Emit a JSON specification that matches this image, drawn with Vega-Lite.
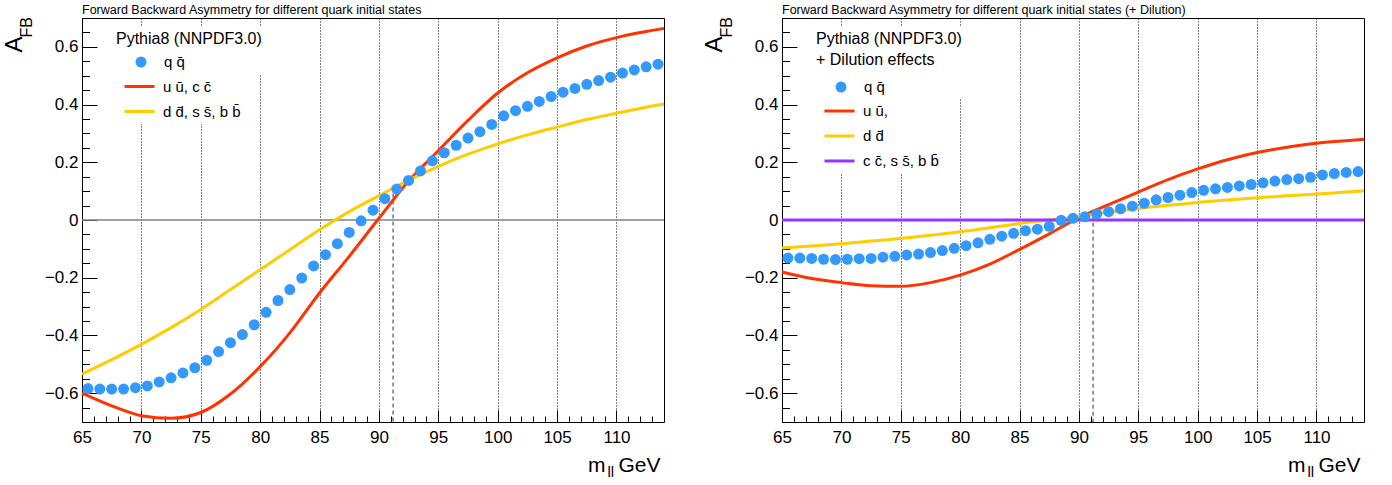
{
  "$schema": "https://vega.github.io/schema/vega-lite/v6.json",
  "padding": {"left": 1, "top": 3, "right": 0, "bottom": 0},
  "bounds": "flush",
  "spacing": 118,
  "config": {
    "view": {"stroke": "black", "strokeWidth": 1},
    "font": "Liberation Sans",
    "axis": {"labelFont": "Liberation Sans", "titleFont": "Liberation Sans", "labelColor": "black", "titleColor": "black", "titleFontWeight": "normal", "tickColor": "black", "tickWidth": 1, "domain": false, "labelFlush": false, "labelOverlap": false, "grid": false},
    "legend": {"labelFont": "Liberation Sans", "titleFont": "Liberation Sans", "labelColor": "black", "titleColor": "black", "titleFontWeight": "normal", "labelLimit": 400, "titleLimit": 400, "fillColor": "white", "padding": 4}
  },
  "datasets": {
    "qqL": [
      {"s": "q q\u0304", "m": 65.5, "v": -0.584}, {"s": "q q\u0304", "m": 66.5, "v": -0.586}, {"s": "q q\u0304", "m": 67.5, "v": -0.586}, {"s": "q q\u0304", "m": 68.5, "v": -0.586}, {"s": "q q\u0304", "m": 69.5, "v": -0.581},
      {"s": "q q\u0304", "m": 70.5, "v": -0.575}, {"s": "q q\u0304", "m": 71.5, "v": -0.561}, {"s": "q q\u0304", "m": 72.5, "v": -0.547}, {"s": "q q\u0304", "m": 73.5, "v": -0.530}, {"s": "q q\u0304", "m": 74.5, "v": -0.512},
      {"s": "q q\u0304", "m": 75.5, "v": -0.486}, {"s": "q q\u0304", "m": 76.5, "v": -0.456}, {"s": "q q\u0304", "m": 77.5, "v": -0.425}, {"s": "q q\u0304", "m": 78.5, "v": -0.397}, {"s": "q q\u0304", "m": 79.5, "v": -0.363},
      {"s": "q q\u0304", "m": 80.5, "v": -0.320}, {"s": "q q\u0304", "m": 81.5, "v": -0.279}, {"s": "q q\u0304", "m": 82.5, "v": -0.241}, {"s": "q q\u0304", "m": 83.5, "v": -0.201}, {"s": "q q\u0304", "m": 84.5, "v": -0.159},
      {"s": "q q\u0304", "m": 85.5, "v": -0.120}, {"s": "q q\u0304", "m": 86.5, "v": -0.082}, {"s": "q q\u0304", "m": 87.5, "v": -0.043}, {"s": "q q\u0304", "m": 88.5, "v": -0.003}, {"s": "q q\u0304", "m": 89.5, "v": 0.034},
      {"s": "q q\u0304", "m": 90.5, "v": 0.074}, {"s": "q q\u0304", "m": 91.5, "v": 0.107}, {"s": "q q\u0304", "m": 92.5, "v": 0.137}, {"s": "q q\u0304", "m": 93.5, "v": 0.170}, {"s": "q q\u0304", "m": 94.5, "v": 0.205},
      {"s": "q q\u0304", "m": 95.5, "v": 0.233}, {"s": "q q\u0304", "m": 96.5, "v": 0.259}, {"s": "q q\u0304", "m": 97.5, "v": 0.284}, {"s": "q q\u0304", "m": 98.5, "v": 0.306}, {"s": "q q\u0304", "m": 99.5, "v": 0.331},
      {"s": "q q\u0304", "m": 100.5, "v": 0.361}, {"s": "q q\u0304", "m": 101.5, "v": 0.379}, {"s": "q q\u0304", "m": 102.5, "v": 0.394}, {"s": "q q\u0304", "m": 103.5, "v": 0.411}, {"s": "q q\u0304", "m": 104.5, "v": 0.428},
      {"s": "q q\u0304", "m": 105.5, "v": 0.443}, {"s": "q q\u0304", "m": 106.5, "v": 0.456}, {"s": "q q\u0304", "m": 107.5, "v": 0.470}, {"s": "q q\u0304", "m": 108.5, "v": 0.483}, {"s": "q q\u0304", "m": 109.5, "v": 0.495},
      {"s": "q q\u0304", "m": 110.5, "v": 0.509}, {"s": "q q\u0304", "m": 111.5, "v": 0.520}, {"s": "q q\u0304", "m": 112.5, "v": 0.531}, {"s": "q q\u0304", "m": 113.5, "v": 0.540}
    ],
    "curvesL": [
      {"s": "u \u016b, c c\u0304", "m": 65, "v": -0.600}, {"s": "u \u016b, c c\u0304", "m": 67.5, "v": -0.644}, {"s": "u \u016b, c c\u0304", "m": 70, "v": -0.678}, {"s": "u \u016b, c c\u0304", "m": 72.5, "v": -0.687},
      {"s": "u \u016b, c c\u0304", "m": 75, "v": -0.667}, {"s": "u \u016b, c c\u0304", "m": 77.5, "v": -0.603}, {"s": "u \u016b, c c\u0304", "m": 80, "v": -0.508}, {"s": "u \u016b, c c\u0304", "m": 82.5, "v": -0.391},
      {"s": "u \u016b, c c\u0304", "m": 85, "v": -0.253}, {"s": "u \u016b, c c\u0304", "m": 87.5, "v": -0.126}, {"s": "u \u016b, c c\u0304", "m": 90, "v": 0.006}, {"s": "u \u016b, c c\u0304", "m": 92.5, "v": 0.135},
      {"s": "u \u016b, c c\u0304", "m": 95, "v": 0.240}, {"s": "u \u016b, c c\u0304", "m": 97.5, "v": 0.345}, {"s": "u \u016b, c c\u0304", "m": 100, "v": 0.440}, {"s": "u \u016b, c c\u0304", "m": 102.5, "v": 0.510},
      {"s": "u \u016b, c c\u0304", "m": 105, "v": 0.562}, {"s": "u \u016b, c c\u0304", "m": 107.5, "v": 0.603}, {"s": "u \u016b, c c\u0304", "m": 110, "v": 0.632}, {"s": "u \u016b, c c\u0304", "m": 112.5, "v": 0.653},
      {"s": "u \u016b, c c\u0304", "m": 114, "v": 0.664},
      {"s": "d d\u0304, s s\u0304, b b\u0304", "m": 65, "v": -0.534}, {"s": "d d\u0304, s s\u0304, b b\u0304", "m": 67.5, "v": -0.484}, {"s": "d d\u0304, s s\u0304, b b\u0304", "m": 70, "v": -0.431}, {"s": "d d\u0304, s s\u0304, b b\u0304", "m": 72.5, "v": -0.373},
      {"s": "d d\u0304, s s\u0304, b b\u0304", "m": 75, "v": -0.310}, {"s": "d d\u0304, s s\u0304, b b\u0304", "m": 77.5, "v": -0.241}, {"s": "d d\u0304, s s\u0304, b b\u0304", "m": 80, "v": -0.172}, {"s": "d d\u0304, s s\u0304, b b\u0304", "m": 82.5, "v": -0.103},
      {"s": "d d\u0304, s s\u0304, b b\u0304", "m": 85, "v": -0.034}, {"s": "d d\u0304, s s\u0304, b b\u0304", "m": 87.5, "v": 0.029}, {"s": "d d\u0304, s s\u0304, b b\u0304", "m": 90, "v": 0.084}, {"s": "d d\u0304, s s\u0304, b b\u0304", "m": 92.5, "v": 0.138},
      {"s": "d d\u0304, s s\u0304, b b\u0304", "m": 95, "v": 0.186}, {"s": "d d\u0304, s s\u0304, b b\u0304", "m": 97.5, "v": 0.228}, {"s": "d d\u0304, s s\u0304, b b\u0304", "m": 100, "v": 0.264}, {"s": "d d\u0304, s s\u0304, b b\u0304", "m": 102.5, "v": 0.295},
      {"s": "d d\u0304, s s\u0304, b b\u0304", "m": 105, "v": 0.322}, {"s": "d d\u0304, s s\u0304, b b\u0304", "m": 107.5, "v": 0.348}, {"s": "d d\u0304, s s\u0304, b b\u0304", "m": 110, "v": 0.370}, {"s": "d d\u0304, s s\u0304, b b\u0304", "m": 112.5, "v": 0.391},
      {"s": "d d\u0304, s s\u0304, b b\u0304", "m": 114, "v": 0.402}
    ],
    "qqR": [
      {"s": "q q\u0304", "m": 65.5, "v": -0.132}, {"s": "q q\u0304", "m": 66.5, "v": -0.132}, {"s": "q q\u0304", "m": 67.5, "v": -0.133}, {"s": "q q\u0304", "m": 68.5, "v": -0.136}, {"s": "q q\u0304", "m": 69.5, "v": -0.137},
      {"s": "q q\u0304", "m": 70.5, "v": -0.136}, {"s": "q q\u0304", "m": 71.5, "v": -0.134}, {"s": "q q\u0304", "m": 72.5, "v": -0.133}, {"s": "q q\u0304", "m": 73.5, "v": -0.129}, {"s": "q q\u0304", "m": 74.5, "v": -0.126},
      {"s": "q q\u0304", "m": 75.5, "v": -0.121}, {"s": "q q\u0304", "m": 76.5, "v": -0.118}, {"s": "q q\u0304", "m": 77.5, "v": -0.113}, {"s": "q q\u0304", "m": 78.5, "v": -0.106}, {"s": "q q\u0304", "m": 79.5, "v": -0.098},
      {"s": "q q\u0304", "m": 80.5, "v": -0.089}, {"s": "q q\u0304", "m": 81.5, "v": -0.079}, {"s": "q q\u0304", "m": 82.5, "v": -0.067}, {"s": "q q\u0304", "m": 83.5, "v": -0.056}, {"s": "q q\u0304", "m": 84.5, "v": -0.046},
      {"s": "q q\u0304", "m": 85.5, "v": -0.037}, {"s": "q q\u0304", "m": 86.5, "v": -0.032}, {"s": "q q\u0304", "m": 87.5, "v": -0.022}, {"s": "q q\u0304", "m": 88.5, "v": -0.001}, {"s": "q q\u0304", "m": 89.5, "v": 0.006},
      {"s": "q q\u0304", "m": 90.5, "v": 0.011}, {"s": "q q\u0304", "m": 91.5, "v": 0.021}, {"s": "q q\u0304", "m": 92.5, "v": 0.029}, {"s": "q q\u0304", "m": 93.5, "v": 0.039}, {"s": "q q\u0304", "m": 94.5, "v": 0.048},
      {"s": "q q\u0304", "m": 95.5, "v": 0.058}, {"s": "q q\u0304", "m": 96.5, "v": 0.070}, {"s": "q q\u0304", "m": 97.5, "v": 0.078}, {"s": "q q\u0304", "m": 98.5, "v": 0.086}, {"s": "q q\u0304", "m": 99.5, "v": 0.095},
      {"s": "q q\u0304", "m": 100.5, "v": 0.103}, {"s": "q q\u0304", "m": 101.5, "v": 0.108}, {"s": "q q\u0304", "m": 102.5, "v": 0.113}, {"s": "q q\u0304", "m": 103.5, "v": 0.118}, {"s": "q q\u0304", "m": 104.5, "v": 0.123},
      {"s": "q q\u0304", "m": 105.5, "v": 0.129}, {"s": "q q\u0304", "m": 106.5, "v": 0.135}, {"s": "q q\u0304", "m": 107.5, "v": 0.140}, {"s": "q q\u0304", "m": 108.5, "v": 0.143}, {"s": "q q\u0304", "m": 109.5, "v": 0.148},
      {"s": "q q\u0304", "m": 110.5, "v": 0.156}, {"s": "q q\u0304", "m": 111.5, "v": 0.161}, {"s": "q q\u0304", "m": 112.5, "v": 0.165}, {"s": "q q\u0304", "m": 113.5, "v": 0.168}
    ],
    "curvesR": [
      {"s": "u \u016b,", "m": 65, "v": -0.180}, {"s": "u \u016b,", "m": 67.5, "v": -0.203}, {"s": "u \u016b,", "m": 70, "v": -0.217}, {"s": "u \u016b,", "m": 72.5, "v": -0.228},
      {"s": "u \u016b,", "m": 75, "v": -0.230}, {"s": "u \u016b,", "m": 77.5, "v": -0.217}, {"s": "u \u016b,", "m": 80, "v": -0.191}, {"s": "u \u016b,", "m": 82.5, "v": -0.153},
      {"s": "u \u016b,", "m": 85, "v": -0.102}, {"s": "u \u016b,", "m": 87.5, "v": -0.048}, {"s": "u \u016b,", "m": 90, "v": 0.008}, {"s": "u \u016b,", "m": 92.5, "v": 0.053},
      {"s": "u \u016b,", "m": 95, "v": 0.097}, {"s": "u \u016b,", "m": 97.5, "v": 0.140}, {"s": "u \u016b,", "m": 100, "v": 0.177}, {"s": "u \u016b,", "m": 102.5, "v": 0.209},
      {"s": "u \u016b,", "m": 105, "v": 0.234}, {"s": "u \u016b,", "m": 107.5, "v": 0.252}, {"s": "u \u016b,", "m": 110, "v": 0.266}, {"s": "u \u016b,", "m": 112.5, "v": 0.275},
      {"s": "u \u016b,", "m": 114, "v": 0.280},
      {"s": "d d\u0304", "m": 65, "v": -0.097}, {"s": "d d\u0304", "m": 67.5, "v": -0.090}, {"s": "d d\u0304", "m": 70, "v": -0.082}, {"s": "d d\u0304", "m": 72.5, "v": -0.073},
      {"s": "d d\u0304", "m": 75, "v": -0.064}, {"s": "d d\u0304", "m": 77.5, "v": -0.053}, {"s": "d d\u0304", "m": 80, "v": -0.041}, {"s": "d d\u0304", "m": 82.5, "v": -0.027},
      {"s": "d d\u0304", "m": 85, "v": -0.012}, {"s": "d d\u0304", "m": 87.5, "v": 0.000}, {"s": "d d\u0304", "m": 90, "v": 0.012}, {"s": "d d\u0304", "m": 92.5, "v": 0.027},
      {"s": "d d\u0304", "m": 95, "v": 0.040}, {"s": "d d\u0304", "m": 97.5, "v": 0.051}, {"s": "d d\u0304", "m": 100, "v": 0.061}, {"s": "d d\u0304", "m": 102.5, "v": 0.069},
      {"s": "d d\u0304", "m": 105, "v": 0.077}, {"s": "d d\u0304", "m": 107.5, "v": 0.084}, {"s": "d d\u0304", "m": 110, "v": 0.090}, {"s": "d d\u0304", "m": 112.5, "v": 0.097},
      {"s": "d d\u0304", "m": 114, "v": 0.101},
      {"s": "c c\u0304, s s\u0304, b b\u0304", "m": 65, "v": 0.0}, {"s": "c c\u0304, s s\u0304, b b\u0304", "m": 114, "v": 0.0}
    ]
  },
  "hconcat": [
    {
      "width": 582,
      "height": 404,
      "title": {"text": "Forward Backward Asymmetry for different quark initial states", "anchor": "start", "frame": "group", "fontSize": 12.5, "fontWeight": "normal", "font": "Liberation Sans", "color": "black", "baseline": "alphabetic", "offset": -10},
      "layer": [
        {
          "data": {"values": [{"y": 0}]},
          "mark": {"type": "rule", "color": "#808080", "strokeWidth": 1.5},
          "encoding": {"y": {"field": "y", "type": "quantitative", "scale": {"domain": [-0.7, 0.7], "nice": false, "zero": false}, "axis": null}}
        },
        {
          "data": {"values": [{"m": 91.19, "top": 0.092, "bottom": -0.7}]},
          "mark": {"type": "rule", "color": "#555555", "strokeDash": [4, 3], "strokeWidth": 1.2},
          "encoding": {
            "x": {"field": "m", "type": "quantitative", "scale": {"domain": [65, 114], "nice": false, "zero": false},
              "axis": {"orient": "bottom", "ticks": false, "labels": false, "domain": false, "grid": false, "title": "GeV", "titleFontSize": 21, "titleAlign": "right", "titleBaseline": "alphabetic", "titleX": 578, "titleY": 49}},
            "y": {"field": "top", "type": "quantitative", "scale": {"domain": [-0.7, 0.7], "nice": false, "zero": false}, "axis": null},
            "y2": {"field": "bottom"}
          }
        },
        {
          "data": {"name": "curvesL"},
          "mark": {"type": "line", "strokeWidth": 3, "interpolate": "monotone"},
          "encoding": {
            "x": {"field": "m", "type": "quantitative", "scale": {"domain": [65, 114], "nice": false, "zero": false},
              "axis": {"orient": "bottom", "values": [66,67,68,69,70,71,72,73,74,75,76,77,78,79,80,81,82,83,84,85,86,87,88,89,90,91,92,93,94,95,96,97,98,99,100,101,102,103,104,105,106,107,108,109,110,111,112,113], "tickSize": -6, "labels": false, "domain": false, "grid": false, "title": "ll", "titleFontSize": 15, "titleAlign": "left", "titleBaseline": "alphabetic", "titleX": 525, "titleY": 54}},
            "y": {"field": "v", "type": "quantitative", "scale": {"domain": [-0.7, 0.7], "nice": false, "zero": false},
              "axis": {"orient": "left", "values": [-0.65,-0.6,-0.55,-0.5,-0.45,-0.4,-0.35,-0.3,-0.25,-0.2,-0.15,-0.1,-0.05,0,0.05,0.1,0.15,0.2,0.25,0.3,0.35,0.4,0.45,0.5,0.55,0.6,0.65], "tickSize": -7.5, "labels": false, "domain": false, "grid": false, "title": "FB", "titleFontSize": 16, "titleAngle": 270, "titleAlign": "left", "titleBaseline": "alphabetic", "titleX": -51, "titleY": 19}},
            "stroke": {"field": "s", "type": "nominal", "scale": {"domain": ["u \u016b, c c\u0304", "d d\u0304, s s\u0304, b b\u0304"], "range": ["#ff3300", "#ffcc00"]},
              "legend": {"orient": "none", "legendX": 30, "legendY": 48, "title": null, "labelFontSize": 15, "symbolType": "stroke", "symbolSize": 900, "symbolStrokeWidth": 3, "symbolOffset": 7, "labelOffset": 7, "rowPadding": -7}}
          }
        },
        {
          "data": {"name": "qqL"},
          "mark": {"type": "point", "filled": true, "size": 121, "opacity": 1, "strokeWidth": 0},
          "encoding": {
            "x": {"field": "m", "type": "quantitative", "scale": {"domain": [65, 114], "nice": false, "zero": false},
              "axis": {"orient": "bottom", "values": [65,70,75,80,85,90,95,100,105,110], "tickSize": -12, "labelPadding": 19, "labelFontSize": 17, "domain": false, "grid": true, "gridColor": "black", "gridDash": [1, 2], "gridWidth": 1, "gridOpacity": 1, "title": "m", "titleFontSize": 21, "titleAlign": "right", "titleBaseline": "alphabetic", "titleX": 523, "titleY": 49}},
            "y": {"field": "v", "type": "quantitative", "scale": {"domain": [-0.7, 0.7], "nice": false, "zero": false},
              "axis": {"orient": "left", "values": [-0.6,-0.4,-0.2,0,0.2,0.4,0.6], "format": "~g", "tickSize": -15, "labelPadding": 19, "labelFontSize": 17, "domain": false, "grid": false, "title": "A", "titleFontSize": 24, "titleAngle": 270, "titleAlign": "left", "titleBaseline": "alphabetic", "titleX": -61, "titleY": 34}},
            "fill": {"field": "s", "type": "nominal", "scale": {"domain": ["q q\u0304"], "range": ["#3399ff"]},
              "legend": {"orient": "none", "legendX": 30, "legendY": 9, "title": "Pythia8 (NNPDF3.0)", "titleFontSize": 16, "titlePadding": 7.5, "labelFontSize": 15, "symbolType": "circle", "symbolSize": 121, "symbolStrokeWidth": 0, "symbolOffset": 17.5, "labelOffset": 15.5}}
          }
        }
      ],
      "resolve": {"axis": {"x": "independent", "y": "independent"}}
    },
    {
      "width": 582,
      "height": 404,
      "title": {"text": "Forward Backward Asymmetry for different quark initial states (+ Dilution)", "anchor": "start", "frame": "group", "fontSize": 12.5, "fontWeight": "normal", "font": "Liberation Sans", "color": "black", "baseline": "alphabetic", "offset": -10},
      "layer": [
        {
          "data": {"values": [{"y": 0}]},
          "mark": {"type": "rule", "color": "#808080", "strokeWidth": 1.5},
          "encoding": {"y": {"field": "y", "type": "quantitative", "scale": {"domain": [-0.7, 0.7], "nice": false, "zero": false}, "axis": null}}
        },
        {
          "data": {"values": [{"m": 91.19, "top": 0.015, "bottom": -0.7}]},
          "mark": {"type": "rule", "color": "#555555", "strokeDash": [4, 3], "strokeWidth": 1.2},
          "encoding": {
            "x": {"field": "m", "type": "quantitative", "scale": {"domain": [65, 114], "nice": false, "zero": false},
              "axis": {"orient": "bottom", "ticks": false, "labels": false, "domain": false, "grid": false, "title": "GeV", "titleFontSize": 21, "titleAlign": "right", "titleBaseline": "alphabetic", "titleX": 578, "titleY": 49}},
            "y": {"field": "top", "type": "quantitative", "scale": {"domain": [-0.7, 0.7], "nice": false, "zero": false}, "axis": null},
            "y2": {"field": "bottom"}
          }
        },
        {
          "data": {"name": "curvesR"},
          "mark": {"type": "line", "strokeWidth": 3, "interpolate": "monotone"},
          "encoding": {
            "x": {"field": "m", "type": "quantitative", "scale": {"domain": [65, 114], "nice": false, "zero": false},
              "axis": {"orient": "bottom", "values": [66,67,68,69,70,71,72,73,74,75,76,77,78,79,80,81,82,83,84,85,86,87,88,89,90,91,92,93,94,95,96,97,98,99,100,101,102,103,104,105,106,107,108,109,110,111,112,113], "tickSize": -6, "labels": false, "domain": false, "grid": false, "title": "ll", "titleFontSize": 15, "titleAlign": "left", "titleBaseline": "alphabetic", "titleX": 525, "titleY": 54}},
            "y": {"field": "v", "type": "quantitative", "scale": {"domain": [-0.7, 0.7], "nice": false, "zero": false},
              "axis": {"orient": "left", "values": [-0.65,-0.6,-0.55,-0.5,-0.45,-0.4,-0.35,-0.3,-0.25,-0.2,-0.15,-0.1,-0.05,0,0.05,0.1,0.15,0.2,0.25,0.3,0.35,0.4,0.45,0.5,0.55,0.6,0.65], "tickSize": -7.5, "labels": false, "domain": false, "grid": false, "title": "FB", "titleFontSize": 16, "titleAngle": 270, "titleAlign": "left", "titleBaseline": "alphabetic", "titleX": -51, "titleY": 19}},
            "stroke": {"field": "s", "type": "nominal", "scale": {"domain": ["u \u016b,", "d d\u0304", "c c\u0304, s s\u0304, b b\u0304"], "range": ["#ff3300", "#ffcc00", "#9933ff"]},
              "legend": {"orient": "none", "legendX": 30, "legendY": 72.5, "title": null, "labelFontSize": 15, "symbolType": "stroke", "symbolSize": 900, "symbolStrokeWidth": 3, "symbolOffset": 7, "labelOffset": 7, "rowPadding": -10.5}}
          }
        },
        {
          "data": {"name": "qqR"},
          "mark": {"type": "point", "filled": true, "size": 121, "opacity": 1, "strokeWidth": 0},
          "encoding": {
            "x": {"field": "m", "type": "quantitative", "scale": {"domain": [65, 114], "nice": false, "zero": false},
              "axis": {"orient": "bottom", "values": [65,70,75,80,85,90,95,100,105,110], "tickSize": -12, "labelPadding": 19, "labelFontSize": 17, "domain": false, "grid": true, "gridColor": "black", "gridDash": [1, 2], "gridWidth": 1, "gridOpacity": 1, "title": "m", "titleFontSize": 21, "titleAlign": "right", "titleBaseline": "alphabetic", "titleX": 523, "titleY": 49}},
            "y": {"field": "v", "type": "quantitative", "scale": {"domain": [-0.7, 0.7], "nice": false, "zero": false},
              "axis": {"orient": "left", "values": [-0.6,-0.4,-0.2,0,0.2,0.4,0.6], "format": "~g", "tickSize": -15, "labelPadding": 19, "labelFontSize": 17, "domain": false, "grid": false, "title": "A", "titleFontSize": 24, "titleAngle": 270, "titleAlign": "left", "titleBaseline": "alphabetic", "titleX": -61, "titleY": 34}},
            "fill": {"field": "s", "type": "nominal", "scale": {"domain": ["q q\u0304"], "range": ["#3399ff"]},
              "legend": {"orient": "none", "legendX": 30, "legendY": 9, "title": ["Pythia8 (NNPDF3.0)", "+ Dilution effects"], "titleFontSize": 16, "titleLineHeight": 21, "titlePadding": 11.5, "labelFontSize": 15, "symbolType": "circle", "symbolSize": 121, "symbolStrokeWidth": 0, "symbolOffset": 17.5, "labelOffset": 15.5}}
          }
        }
      ],
      "resolve": {"axis": {"x": "independent", "y": "independent"}}
    }
  ],
  "resolve": {"scale": {"fill": "independent", "stroke": "independent"}, "legend": {"fill": "independent", "stroke": "independent"}}
}
